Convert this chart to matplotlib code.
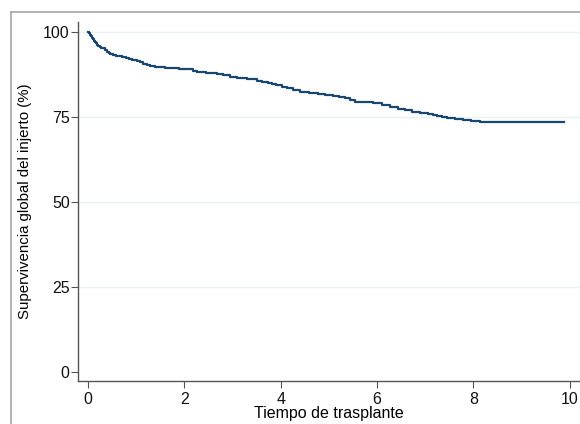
import numpy as np
import matplotlib
matplotlib.use('Agg')
import matplotlib.pyplot as plt
from matplotlib.lines import Line2D

# Tiempo de trasplante (años) y supervivencia (%)
tiempo = [0.00, 0.02, 0.04, 0.06, 0.08, 0.10, 0.12, 0.14, 0.16, 0.18, 0.21,
          0.25, 0.28, 0.31, 0.35, 0.40, 0.43, 0.46, 0.52, 0.58, 0.64, 0.70,
          0.78, 0.85, 0.92, 1.01, 1.07, 1.14, 1.22, 1.29, 1.40, 1.50, 1.60,
          1.70, 1.88, 2.07, 2.17, 2.26, 2.45, 2.67, 2.80, 2.95, 3.09, 3.30,
          3.50, 3.62, 3.73, 3.82, 3.91, 4.02, 4.12, 4.25, 4.40, 4.58, 4.77,
          4.92, 5.08, 5.20, 5.33, 5.44, 5.54, 5.72, 5.91, 6.10, 6.27, 6.43,
          6.58, 6.72, 6.88, 7.05, 7.15, 7.24, 7.35, 7.45, 7.62, 7.78, 7.95,
          8.13, 9.88]
superv = [100.0, 99.6, 99.1, 98.7, 98.2, 97.8, 97.4, 97.0, 96.6, 96.2, 95.9,
          95.6, 95.4, 95.2, 94.7, 94.2, 93.8, 93.5, 93.2, 93.0, 92.9, 92.7,
          92.3, 92.0, 91.7, 91.3, 91.0, 90.6, 90.3, 90.0, 89.8, 89.6, 89.5,
          89.3, 89.2, 89.0, 88.6, 88.1, 87.9, 87.6, 87.2, 86.8, 86.4, 86.1,
          85.7, 85.4, 85.1, 84.8, 84.4, 83.9, 83.4, 82.9, 82.4, 82.1, 81.8,
          81.4, 81.0, 80.8, 80.5, 80.0, 79.5, 79.3, 79.0, 78.4, 77.9, 77.4,
          76.9, 76.4, 76.2, 75.9, 75.6, 75.3, 75.0, 74.8, 74.4, 74.0, 73.7,
          73.4, 73.4]

xticks = [0, 2, 4, 6, 8, 10]
yticks = [0, 25, 50, 75, 100]

plt.rcParams['font.family'] = ['Liberation Sans', 'DejaVu Sans']

fig = plt.figure(figsize=(5.8, 4.24), dpi=100)
fig.patch.set_facecolor('white')

# marco gris exterior (estilo Stata)
fig.add_artist(Line2D([11 / 580, 11 / 580], [0, 1 - 12 / 424],
                      transform=fig.transFigure, color='#a6a6a6', lw=1.2))
fig.add_artist(Line2D([11 / 580, 1], [1 - 12 / 424, 1 - 12 / 424],
                      transform=fig.transFigure, color='#a6a6a6', lw=1.2))

ax = fig.add_axes([78 / 580, 43 / 424, 502 / 580, 359 / 424])

for yv in yticks[1:]:
    ax.axhline(yv, color='#eaf2f3', lw=1.0, zorder=0)

ax.step(tiempo, superv, where='post', color='#1a476f', lw=1.6)

ax.set_xlim(-0.207, 10.21)
ax.set_ylim(-2.65, 102.9)
ax.set_xticks(xticks)
ax.set_yticks(yticks)
ax.tick_params(axis='both', labelsize=11.5, length=5, width=0.8,
               color='#555555', labelcolor='#111111')
ax.tick_params(axis='x', pad=3)
ax.tick_params(axis='y', pad=1)

for side in ['top', 'right']:
    ax.spines[side].set_visible(False)
for side in ['left', 'bottom']:
    ax.spines[side].set_color('#555555')
    ax.spines[side].set_linewidth(1.0)

ax.set_xlabel('Tiempo de trasplante', fontsize=11.5, labelpad=-1)
ax.set_ylabel('Supervivencia global del injerto (%)', fontsize=10.8, labelpad=8)

plt.savefig('out.png', dpi=100)
